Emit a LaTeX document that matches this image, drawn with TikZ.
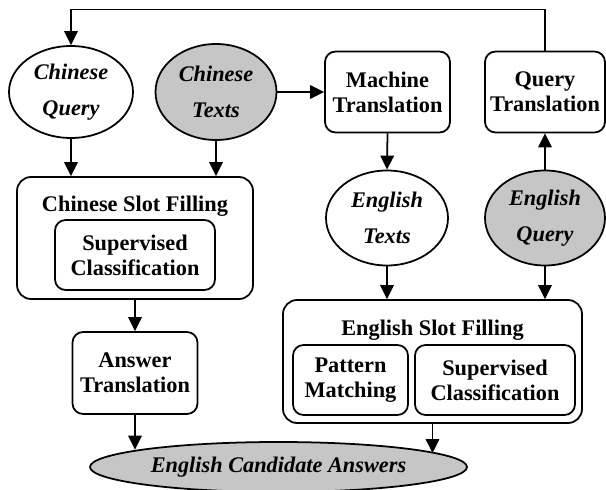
\documentclass[tikz,border=0pt]{standalone}
\usepackage{fontspec}
\setmainfont{LiberationSerif-Regular.ttf}[BoldFont=LiberationSerif-Bold.ttf, ItalicFont=LiberationSerif-Italic.ttf, BoldItalicFont=LiberationSerif-BoldItalic.ttf]
\usepackage{tikz}
\usetikzlibrary{shapes.geometric, arrows.meta}
\definecolor{datagray}{RGB}{198,198,198}

\begin{document}
\begin{tikzpicture}[line width=1pt,
  proc/.style={draw, rounded corners=6pt, align=center, inner sep=0pt, font=\fontsize{12.7}{14.2}\selectfont\bfseries},
  group/.style={draw, rounded corners=8pt, inner sep=0pt},
  data/.style={draw, ellipse, align=center, inner sep=0pt, font=\fontsize{12.7}{20.5}\selectfont\bfseries\itshape},
  arr/.style={-{Triangle[length=2.8mm, width=2.7mm]}}]
 \useasboundingbox (0,0) rectangle (12.12,9.78);
 % top row
 \node[data, minimum width=2.48cm, minimum height=1.84cm] (cq) at (1.42,7.94){Chinese\\Query};
 \node[data, fill=datagray, minimum width=2.42cm, minimum height=1.92cm] (ct) at (4.32,7.94){Chinese\\Texts};
 \node[proc, minimum width=2.5cm, minimum height=1.62cm] (mt) at (7.75,7.94){Machine\\Translation};
 \node[proc, minimum width=2.4cm, minimum height=1.62cm] (qt) at (10.9,7.94){Query\\Translation};
 \node[data, minimum width=2.44cm, minimum height=1.9cm] (et) at (7.74,5.42){English\\Texts};
 \node[data, fill=datagray, minimum width=2.4cm, minimum height=1.9cm] (eq) at (10.9,5.42){English\\Query};
 % chinese side
 \node[group, minimum width=4.72cm, minimum height=2.44cm] (csf) at (2.7,5.02){};
 \node[font=\fontsize{12.7}{14.2}\selectfont\bfseries] (csftitle) at (2.7,5.66){Chinese Slot Filling};
 \node[proc, minimum width=3.2cm, minimum height=1.4cm] (csc) at (2.7,4.68){Supervised\\Classification};
 \node[proc, minimum width=2.5cm, minimum height=1.64cm] (at) at (2.7,2.32){Answer\\Translation};
 % english side
 \node[group, minimum width=5.98cm, minimum height=2.46cm] (esf) at (8.65,2.55){};
 \node[font=\fontsize{12.7}{14.2}\selectfont\bfseries] (esftitle) at (8.65,3.18){English Slot Filling};
 \node[proc, minimum width=2.3cm, minimum height=1.4cm] (pm) at (7.01,2.18){Pattern\\Matching};
 \node[proc, minimum width=3.2cm, minimum height=1.4cm] (esc) at (9.9,2.18){Supervised\\Classification};
 % answers
 \node[data, fill=datagray, minimum width=7.54cm, minimum height=1.0cm] (eca) at (5.57,0.44){English Candidate Answers};
 % connectors
 \draw[arr] (qt.north) -- ++(0,0.82) -| (cq.north);
 \draw[arr] (cq.south) -- (cq.south |- csf.north);
 \draw[arr] (ct.south) -- (ct.south |- csf.north);
 \draw[arr] (ct.east) -- (mt.west);
 \draw[arr] (mt.south) -- (et.north);
 \draw[arr] (eq.north) -- (qt.south);
 \draw[arr] (et.south) -- (et.south |- esf.north);
 \draw[arr] (eq.south) -- (eq.south |- esf.north);
 \draw[arr] (csf.south) -- (at.north);
 \draw[arr] (at.south) -- (at.south |- eca.173);
 \draw[arr] (esf.south) -- (esf.south |- eca.5);
\end{tikzpicture}
\end{document}
